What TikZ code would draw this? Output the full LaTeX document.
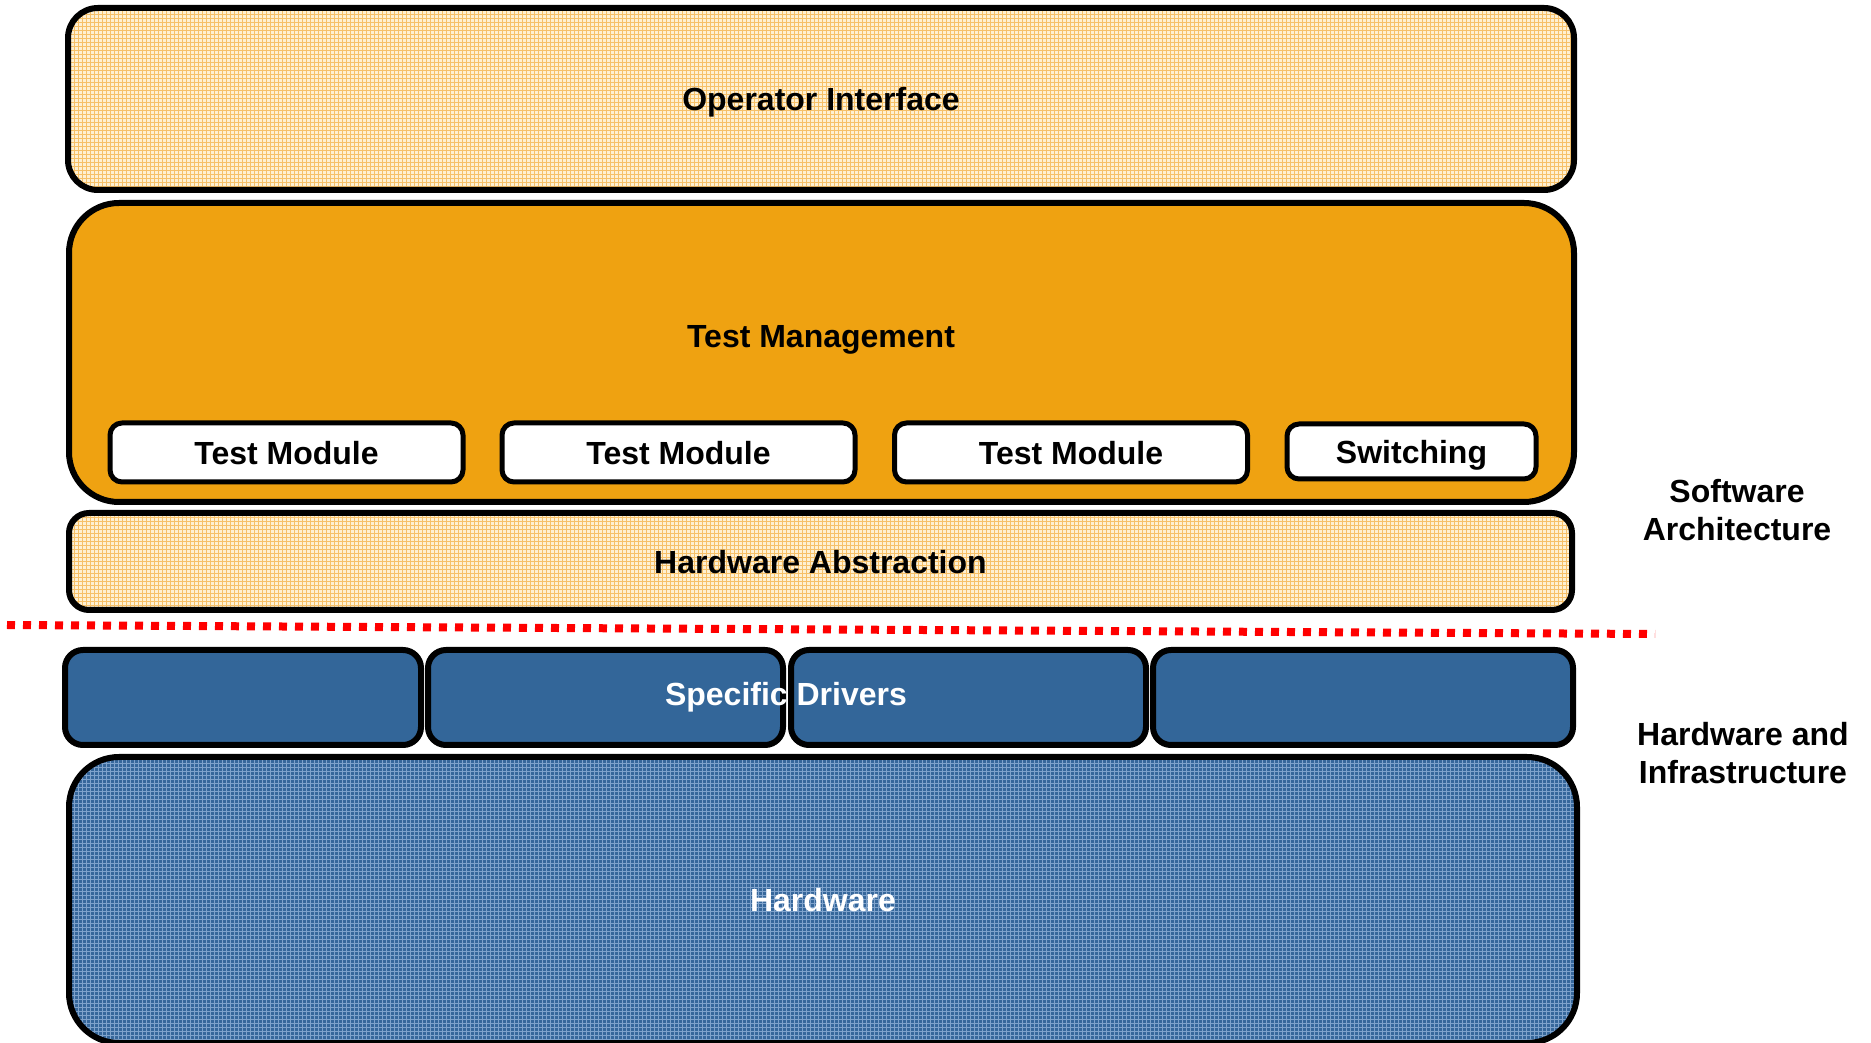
\documentclass[tikz,border=0pt]{standalone}
\usepackage{fontspec}
\setmainfont{Liberation Sans}
\usepackage{tikz}
\definecolor{saorange}{HTML}{EFA211}
\definecolor{salight}{HTML}{FEF0D2}
\definecolor{saplaid}{HTML}{F6C068}
\definecolor{hwblue}{HTML}{336699}
\definecolor{hwdeep}{HTML}{36679B}
\definecolor{hwplaid}{HTML}{7FA3CC}
\definecolor{sepred}{HTML}{FF0000}

\tikzset{
  layer/.style={draw=black,line width=6pt,inner sep=0pt,text depth=0pt,
    font=\bfseries\fontsize{32}{38}\selectfont},
  softplaid/.style={fill=salight,path picture={
    \draw[saplaid,line width=.6pt,step=4pt]
      (path picture bounding box.south west) grid
      (path picture bounding box.north east);}},
  hardplaid/.style={fill=hwdeep,path picture={
    \draw[hwplaid,line width=.6pt,step=4pt]
      (path picture bounding box.south west) grid
      (path picture bounding box.north east);}},
  module/.style={layer,fill=white,line width=5pt,rounded corners=12pt,
    minimum width=353pt,minimum height=59pt},
  driver/.style={layer,fill=hwblue,rounded corners=18pt,minimum height=95pt},
  sidelabel/.style={align=center,font=\bfseries\fontsize{32}{38}\selectfont}
}

\begin{document}
\begin{tikzpicture}[x=1pt,y=1pt,line join=round]
\useasboundingbox (0,0) rectangle (1871,1042);
\fill[white] (0,0) rectangle (1871,1042);

% software side
\node[layer,softplaid,rounded corners=30pt,minimum width=1506pt,
  minimum height=182pt] (opif) at (821,943) {Operator Interface};

\node[layer,fill=saorange,rounded corners=50pt,minimum width=1505pt,
  minimum height=299pt] (testmgmt) at (821.5,689.5) {};
\node[font=\bfseries\fontsize{32}{38}\selectfont,text depth=0pt] (tmlabel)
  at (821,706) {Test Management};
\node[module] (tmodA) at (286.5,589.5) {Test Module};
\node[module] (tmodB) at (678.5,589.5) {Test Module};
\node[module] (tmodC) at (1071,589.5) {Test Module};
\node[module,minimum width=249pt,minimum height=55pt] (switching)
  at (1411.5,590.5) {Switching};

\node[layer,softplaid,rounded corners=20pt,minimum width=1503pt,
  minimum height=97pt] (hwabs) at (820.5,480.5) {Hardware Abstraction};

% border between the two halves
\coordinate (sepwest) at (7,417);
\coordinate (sepeast) at (1655,408);
\draw[sepred,line width=8pt,dash pattern=on 8pt off 8pt] (sepwest) -- (sepeast);

% hardware side
\node[driver,minimum width=356pt] (drvA) at (243,344.5) {};
\node[driver,minimum width=355pt] (drvB) at (605.5,344.5) {};
\node[driver,minimum width=355pt] (drvC) at (968.5,344.5) {};
\node[driver,minimum width=420pt] (drvD) at (1363,344.5) {};
\node[text=white,font=\bfseries\fontsize{32}{38}\selectfont] (drvlabel)
  at (786,345) {Specific Drivers};

\node[layer,hardplaid,text=white,rounded corners=50pt,minimum width=1508pt,
  minimum height=286pt] (hardware) at (823,142) {Hardware};

% side captions
\node[sidelabel] (swlabel) at (1737,532) {Software\\Architecture};
\node[sidelabel] (hwlabel) at (1743,289) {Hardware and\\Infrastructure};

\end{tikzpicture}
\end{document}
